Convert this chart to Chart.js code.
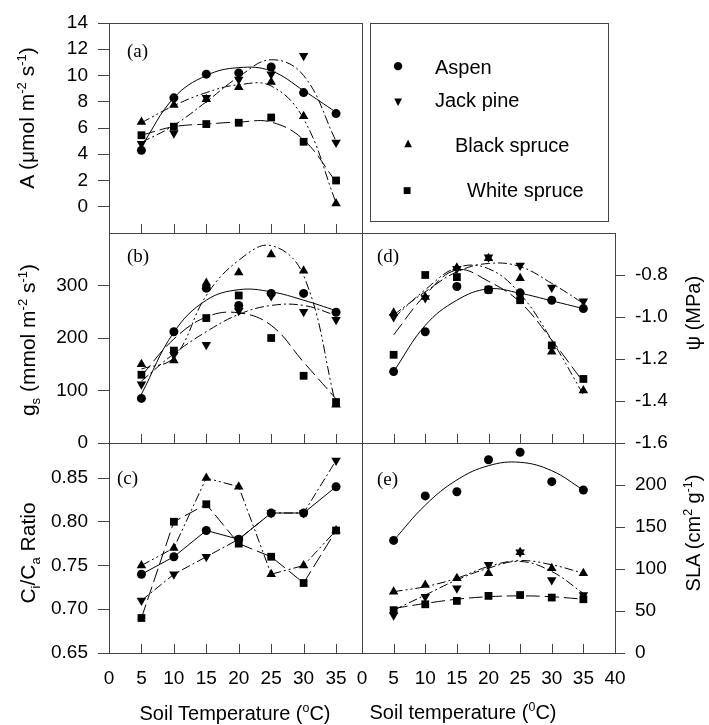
<!DOCTYPE html>
<html>
<head>
<meta charset="utf-8">
<title>Soil temperature responses</title>
<script src="https://cdn.jsdelivr.net/npm/chart.js@4.4.1/dist/chart.umd.min.js"></script>
<style>
  body { margin: 0; background: #fff; }
  #fig { position: relative; width: 709px; height: 725px; overflow: hidden; font-family: 'Liberation Sans', Arial, sans-serif; color: #000; }
  #fig canvas { position: absolute; left: 0; top: 0; }
  .title { position: absolute; white-space: nowrap; line-height: 1; }
  .ytitle { transform: translate(-50%, -50%) rotate(-90deg); font-size: 21px; }
  .rtitle { font-size: 20px; }
  .xtitle { transform: translate(-50%, -50%); font-size: 20px; }
  .tag { position: absolute; font-family: 'Liberation Serif', 'Times New Roman', serif; font-size: 19px; line-height: 1; }
  sup, sub { font-size: 0.62em; line-height: 0; }
  #legend { position: absolute; left: 370px; top: 23px; width: 237px; height: 197px; border: 1px solid #444; }
  .key { position: absolute; font-size: 20px; line-height: 1; white-space: nowrap; transform: translateY(-50%); }
  .mark { position: absolute; font-family: 'DejaVu Sans', sans-serif; font-size: 10px; line-height: 1; transform: translate(-50%, -50%); }
</style>
</head>
<body>
<div id="fig">
  <canvas id="pa" width="709" height="725"></canvas>
  <canvas id="pb" width="709" height="725"></canvas>
  <canvas id="pc" width="709" height="725"></canvas>
  <canvas id="pd" width="709" height="725"></canvas>
  <canvas id="pe" width="709" height="725"></canvas>

  <div id="legend"></div>
  <div class="mark" style="left:398px;top:65px;font-size:11px">●</div><div class="key" style="left:435px;top:67px">Aspen</div>
  <div class="mark" style="left:398px;top:102px">▼</div><div class="key" style="left:435px;top:100px">Jack pine</div>
  <div class="mark" style="left:408px;top:143px">▲</div><div class="key" style="left:455px;top:145px">Black spruce</div>
  <div class="mark" style="left:407px;top:190px;font-size:9px">■</div><div class="key" style="left:467px;top:190px">White spruce</div>

  <div class="tag" style="left:127px;top:41px">(a)</div>
  <div class="tag" style="left:127px;top:246px">(b)</div>
  <div class="tag" style="left:117px;top:468px">(c)</div>
  <div class="tag" style="left:377px;top:246px">(d)</div>
  <div class="tag" style="left:377px;top:469px">(e)</div>

  <div class="title ytitle" style="left:26px;top:118px">A (μmol m<sup>-2</sup> s<sup>-1</sup>)</div>
  <div class="title ytitle" style="left:27px;top:340px">g<sub>s</sub> (mmol m<sup>-2</sup> s<sup>-1</sup>)</div>
  <div class="title ytitle" style="left:27px;top:553px">C<sub>i</sub>/C<sub>a</sub> Ratio</div>
  <div class="title ytitle rtitle" style="left:693px;top:313px">ψ (MPa)</div>
  <div class="title ytitle rtitle" style="left:693px;top:533px">SLA (cm<sup>2</sup> g<sup>-1</sup>)</div>
  <div class="title xtitle" style="left:235px;top:713px">Soil Temperature (<sup>o</sup>C)</div>
  <div class="title xtitle" style="left:463px;top:712px">Soil temperature (<sup>0</sup>C)</div>
</div>

<script>
const W = 709, H = 725;

// soil temperature treatments (°C) and axis ticks
const temps = [5, 10, 15, 20, 25, 30, 35];
const leftXTicks = [0, 5, 10, 15, 20, 25, 30, 35];
const rightXTicks = [0, 5, 10, 15, 20, 25, 30, 35, 40];
const innerXTicks = [5, 10, 15, 20, 25, 30, 35];

// (a) net photosynthesis A (µmol m-2 s-1)
const aTicks = [0, 2, 4, 6, 8, 10, 12, 14];
const aAspen = [4.3, 8.3, 10.1, 10.2, 10.65, 8.7, 7.1];
const aJackPine = [4.8, 5.6, 8.3, 9.7, 10.1, 11.5, 4.9];
const aBlackSpruce = [6.45, 7.75, 8.2, 9.1, 9.5, 6.9, 0.25];
const aWhiteSpruce = [5.45, 6.1, 6.3, 6.4, 6.8, 4.95, 2.0];
// fitted curves at the same temperatures
const aFitAspen = [4.6, 8.3, 10.0, 10.6, 10.35, 8.85, 7.2];
const aFitJackPine = [4.9, 6.2, 8.0, 9.9, 11.2, 10.0, 5.0];
const aFitBlackSpruce = [6.4, 7.7, 8.7, 9.3, 9.2, 6.7, 0.3];
const aFitWhiteSpruce = [5.45, 6.1, 6.3, 6.45, 6.45, 5.1, 1.9];

// (b) stomatal conductance gs (mmol m-2 s-1)
const bTicks = [0, 100, 200, 300];
const bAspen = [85, 212, 295, 262, 285, 285, 249];
const bJackPine = [112, 168, 187, 252, 280, 250, 235];
const bBlackSpruce = [150, 157, 305, 325, 359, 328, 73];
const bWhiteSpruce = [130, 176, 238, 281, 200, 128, 78];
const bFitAspen = [93, 211, 272, 292, 288, 272, 252];
const bFitJackPine = [118, 170, 212, 245, 262, 262, 243];
const bFitBlackSpruce = [141, 163, 281, 348, 376, 319, 71];
const bFitWhiteSpruce = [128, 198, 240, 248, 224, 154, 84];

// (c) Ci/Ca ratio
const cTicks = [0.65, 0.70, 0.75, 0.80, 0.85];
const cAspen = [0.74, 0.76, 0.79, 0.78, 0.81, 0.81, 0.84];
const cJackPine = [0.71, 0.74, 0.76, 0.78, 0.81, 0.81, 0.87];
const cBlackSpruce = [0.75, 0.77, 0.85, 0.84, 0.74, 0.75, 0.79];
const cWhiteSpruce = [0.69, 0.80, 0.82, 0.775, 0.76, 0.73, 0.79];

// (d) water potential psi (MPa)
const dTicks = [-1.6, -1.4, -1.2, -1.0, -0.8];
const dAspen = [-1.26, -1.07, -0.855, -0.87, -0.885, -0.92, -0.96];
const dJackPine = [-1.0, -0.91, -0.77, -0.715, -0.755, -0.86, -0.925];
const dBlackSpruce = [-0.98, -0.905, -0.765, -0.72, -0.815, -1.165, -1.35];
const dWhiteSpruce = [-1.18, -0.80, -0.81, -0.87, -0.92, -1.135, -1.295];
const dFitAspen = [-1.26, -1.04, -0.92, -0.866, -0.887, -0.923, -0.96];
const dFitJackPine = [-0.99, -0.88, -0.785, -0.745, -0.76, -0.84, -0.935];
const dFitBlackSpruce = [-1.005, -0.87, -0.765, -0.77, -0.89, -1.11, -1.37];
const dFitWhiteSpruce = [-1.085, -0.895, -0.776, -0.83, -0.93, -1.11, -1.31];

// (e) specific leaf area SLA (cm2 g-1)
const eTicks = [0, 50, 100, 150, 200];
const eAspen = [134, 187, 192, 230, 239, 204, 194];
const eJackPine = [45, 67, 77, 105, 120, 87, 69];
const eBlackSpruce = [73, 81, 89, 95, 120, 101, 95];
const eWhiteSpruce = [51, 58, 62, 68, 69, 66, 64];
const eFitAspen = [134, 176, 206, 223, 227, 217, 194];
const eFitJackPine = [51, 69, 87, 101, 109, 97, 71];
const eFitBlackSpruce = [73, 79, 89, 103, 110, 105, 95];
const eFitWhiteSpruce = [53, 59, 64, 67, 68, 67, 64];

Chart.defaults.font.family = "'Liberation Sans', Arial, sans-serif";
Chart.defaults.color = '#000';

// marker + line style per species
const aspen = { label: 'Aspen', pointStyle: 'circle', radius: 4.5, rotation: 0, dash: [] };
const jackPine = { label: 'Jack pine', pointStyle: 'triangle', radius: 5.5, rotation: 180, dash: [9, 3, 2, 3] };
const blackSpruce = { label: 'Black spruce', pointStyle: 'triangle', radius: 5.5, rotation: 0, dash: [9, 3, 2, 3, 2, 3] };
const whiteSpruce = { label: 'White spruce', pointStyle: 'rect', radius: 5.5, rotation: 0, dash: [14, 5] };

function pts(values) {
  return temps.map((t, i) => ({ x: t, y: values[i] }));
}

function markers(values, look) {
  return {
    label: look.label,
    data: pts(values),
    showLine: false,
    pointStyle: look.pointStyle,
    pointRadius: look.radius,
    pointRotation: look.rotation,
    pointBackgroundColor: '#000',
    pointBorderColor: '#000',
    pointBorderWidth: 0
  };
}

function curve(values, look, tension) {
  return {
    label: look.label + ' fit',
    data: pts(values),
    showLine: true,
    pointRadius: 0,
    borderColor: '#000',
    borderWidth: 1,
    borderDash: look.dash,
    tension: tension,
    fill: false
  };
}

// box around each panel + inward tick marks on the temperature axis
const frame = {
  id: 'frame',
  afterDraw(chart) {
    const { ctx, chartArea: a, scales } = chart;
    ctx.save();
    ctx.strokeStyle = '#444';
    ctx.lineWidth = 1;
    ctx.strokeRect(Math.round(a.left) + 0.5, Math.round(a.top) + 0.5,
      Math.round(a.right - a.left), Math.round(a.bottom - a.top));
    ctx.beginPath();
    innerXTicks.forEach(v => {
      const px = Math.round(scales.x.getPixelForValue(v)) + 0.5;
      ctx.moveTo(px, a.bottom);
      ctx.lineTo(px, a.bottom - 9);
    });
    ctx.stroke();
    ctx.restore();
  }
};

function panel(id, box, cfg) {
  const yW = 62;
  const xH = cfg.xTicks ? 40 : 0;
  const right = cfg.yPos === 'right';
  return new Chart(document.getElementById(id), {
    type: 'scatter',
    data: { datasets: cfg.datasets },
    options: {
      responsive: false,
      animation: false,
      devicePixelRatio: 1,
      layout: {
        autoPadding: false,
        padding: {
          left: right ? box.x0 : box.x0 - yW,
          right: right ? W - box.x1 - yW : W - box.x1,
          top: box.y0,
          bottom: H - box.y1 - xH
        }
      },
      plugins: { legend: { display: false }, tooltip: { enabled: false } },
      scales: {
        x: {
          type: 'linear',
          min: 0,
          max: cfg.xMax,
          display: !!cfg.xTicks,
          afterBuildTicks: s => { s.ticks = (cfg.xTicks || []).map(v => ({ value: v })); },
          afterFit: s => { s.height = xH; },
          grid: { display: false },
          border: { display: false },
          ticks: { font: { size: 19 }, padding: 6, maxRotation: 0, autoSkip: false }
        },
        y: {
          type: 'linear',
          position: right ? 'right' : 'left',
          min: cfg.yMin,
          max: cfg.yMax,
          afterBuildTicks: s => { s.ticks = cfg.yTicks.map(v => ({ value: v })); },
          afterFit: s => { s.width = yW; },
          grid: { drawOnChartArea: false, drawTicks: true, tickLength: right ? 10 : 11, color: '#444' },
          border: { display: false },
          ticks: { font: { size: 19 }, padding: 10, autoSkip: false, callback: cfg.fmt }
        }
      }
    },
    plugins: [frame]
  });
}

const leftCol = { x0: 109, x1: 362 };
const rightCol = { x0: 362, x1: 615 };

panel('pa', { ...leftCol, y0: 23, y1: 233 }, {
  xMax: 39, yMin: -2, yMax: 14, yTicks: aTicks, fmt: v => String(v),
  datasets: [
    markers(aAspen, aspen), markers(aJackPine, jackPine), markers(aBlackSpruce, blackSpruce), markers(aWhiteSpruce, whiteSpruce),
    curve(aFitAspen, aspen, 0.4), curve(aFitJackPine, jackPine, 0.4), curve(aFitBlackSpruce, blackSpruce, 0.4), curve(aFitWhiteSpruce, whiteSpruce, 0.4)
  ]
});

panel('pb', { ...leftCol, y0: 233, y1: 443 }, {
  xMax: 39, yMin: 0, yMax: 400, yTicks: bTicks, fmt: v => String(v),
  datasets: [
    markers(bAspen, aspen), markers(bJackPine, jackPine), markers(bBlackSpruce, blackSpruce), markers(bWhiteSpruce, whiteSpruce),
    curve(bFitAspen, aspen, 0.4), curve(bFitJackPine, jackPine, 0.4), curve(bFitBlackSpruce, blackSpruce, 0.4), curve(bFitWhiteSpruce, whiteSpruce, 0.4)
  ]
});

panel('pc', { ...leftCol, y0: 443, y1: 653 }, {
  xMax: 39, xTicks: leftXTicks, yMin: 0.65, yMax: 0.89, yTicks: cTicks, fmt: v => v.toFixed(2),
  datasets: [
    markers(cAspen, aspen), markers(cJackPine, jackPine), markers(cBlackSpruce, blackSpruce), markers(cWhiteSpruce, whiteSpruce),
    curve(cAspen, aspen, 0), curve(cJackPine, jackPine, 0), curve(cBlackSpruce, blackSpruce, 0), curve(cWhiteSpruce, whiteSpruce, 0)
  ]
});

panel('pd', { ...rightCol, y0: 233, y1: 443 }, {
  xMax: 40, yPos: 'right', yMin: -1.6, yMax: -0.6, yTicks: dTicks, fmt: v => v.toFixed(1),
  datasets: [
    markers(dAspen, aspen), markers(dJackPine, jackPine), markers(dBlackSpruce, blackSpruce), markers(dWhiteSpruce, whiteSpruce),
    curve(dFitAspen, aspen, 0.4), curve(dFitJackPine, jackPine, 0.4), curve(dFitBlackSpruce, blackSpruce, 0.4), curve(dFitWhiteSpruce, whiteSpruce, 0.4)
  ]
});

panel('pe', { ...rightCol, y0: 443, y1: 653 }, {
  xMax: 40, xTicks: rightXTicks, yPos: 'right', yMin: 0, yMax: 250, yTicks: eTicks, fmt: v => String(v),
  datasets: [
    markers(eAspen, aspen), markers(eJackPine, jackPine), markers(eBlackSpruce, blackSpruce), markers(eWhiteSpruce, whiteSpruce),
    curve(eFitAspen, aspen, 0.4), curve(eFitJackPine, jackPine, 0.4), curve(eFitBlackSpruce, blackSpruce, 0.4), curve(eFitWhiteSpruce, whiteSpruce, 0.4)
  ]
});
</script>
</body>
</html>
